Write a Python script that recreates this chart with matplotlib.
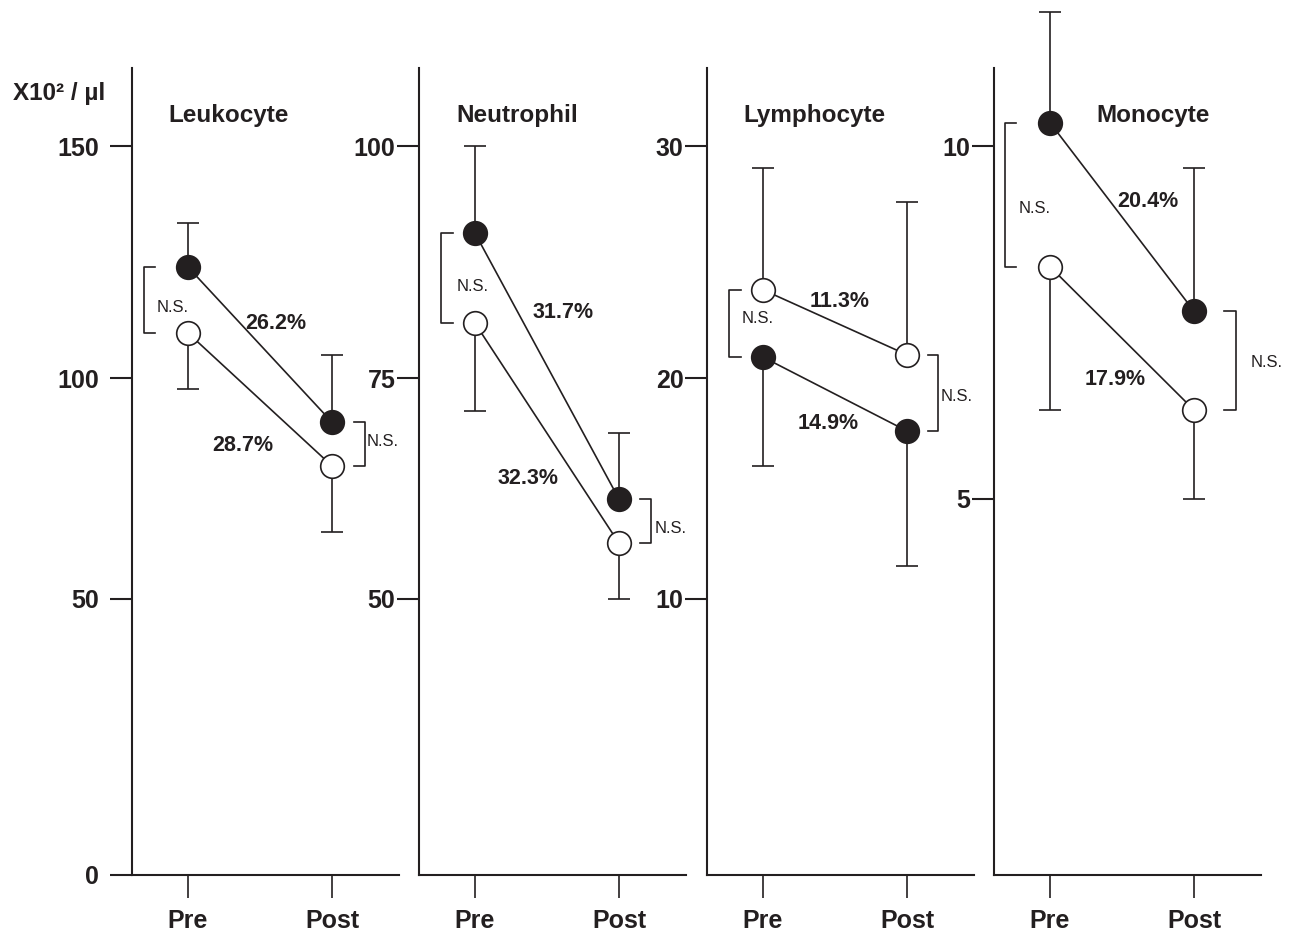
import numpy as np
import matplotlib.pyplot as plt

plt.rcParams['font.family'] = ['Liberation Sans', 'DejaVu Sans']

INK = '#231f20'

# -----------------------------
# data
# -----------------------------
panels = ["Leukocyte", "Neutrophil", "Lymphocyte", "Monocyte"]
times = ["Pre", "Post"]

# filled circles / open circles (Pre, Post)
closed_mean = [[123.9, 90.0], [90.6, 61.3], [20.9, 17.6], [10.33, 7.66]]
open_mean = [[109.7, 80.1], [80.9, 56.3], [23.8, 21.0], [8.29, 6.26]]
closed_err = [[9.5, 15.0], [9.4, 7.5], [4.9, 6.1], [1.57, 2.03]]
open_err = [[12.2, 14.9], [9.6, 6.3], [5.25, 6.6], [2.03, 1.26]]

closed_pct = ["26.2%", "31.7%", "14.9%", "20.4%"]
open_pct = ["28.7%", "32.3%", "11.3%", "17.9%"]

yticks = [[0, 50, 100, 150], [50, 75, 100], [10, 20, 30], [5, 10]]

# -----------------------------
# layout (pixel rows of the ticks in the original figure)
# -----------------------------
tick_rows = [[875, 599, 378, 146], [599, 378, 146], [599, 378, 146], [499, 146]]
AX_BOT, AX_TOP = 875, 68


def frac(row):
    return (AX_BOT - row) / (AX_BOT - AX_TOP)


def make_scale(vals, fracs):
    vals = np.asarray(vals, float)
    fracs = np.asarray(fracs, float)

    def extrap(v, xp, fp):
        v = np.asarray(v, float)
        out = np.interp(v, xp, fp)
        s0 = (fp[1] - fp[0]) / (xp[1] - xp[0])
        s1 = (fp[-1] - fp[-2]) / (xp[-1] - xp[-2])
        out = np.where(v < xp[0], fp[0] + (v - xp[0]) * s0, out)
        out = np.where(v > xp[-1], fp[-1] + (v - xp[-1]) * s1, out)
        return out

    return (lambda v: extrap(v, vals, fracs), lambda f: extrap(f, fracs, vals))


# bracket x offsets (vertical, tip) for Pre and Post
br_pre = [(-0.306, -0.229), (-0.236, -0.153), (-0.236, -0.153), (-0.313, -0.236)]
br_post = [(0.229, 0.153), (0.222, 0.146), (0.215, 0.146), (0.292, 0.208)]

# text positions in axes fraction: (x, baseline row)
title_x = [0.135, 0.139, 0.135, 0.382]
ns_pre = [(0.154, 312), (0.199, 291), (0.191, 323), (0.154, 213)]
ns_post = [(0.880, 446), (0.884, 533), (0.876, 401), (0.963, 367)]
closed_pct_pos = [(0.539, 329), (0.539, 318), (0.453, 429), (0.577, 207)]
open_pct_pos = [(0.416, 451), (0.408, 484), (0.498, 307), (0.453, 385)]

spines_px = [132, 419, 707, 994]
W, H = 1293, 932
ax_w = 267

fig = plt.figure(figsize=(W / 100, H / 100), dpi=100)

for i, name in enumerate(panels):
    ax = fig.add_axes([spines_px[i] / W, (H - AX_BOT) / H,
                       ax_w / W, (AX_BOT - AX_TOP) / H])
    fwd, inv = make_scale(yticks[i], [frac(r) for r in tick_rows[i]])
    ax.set_yscale('function', functions=(fwd, inv))
    ax.set_ylim(float(inv(0.0)), float(inv(1.0)))
    ax.set_xlim(-0.389, 1.465)

    x = np.arange(2)
    cm = np.array(closed_mean[i])
    om = np.array(open_mean[i])
    ce = np.array(closed_err[i])
    oe = np.array(open_err[i])
    zero = np.zeros(2)

    # the upper series gets upward bars, the lower one downward bars
    if cm[0] >= om[0]:
        c_yerr, o_yerr = [zero, ce], [oe, zero]
    else:
        c_yerr, o_yerr = [ce, zero], [zero, oe]

    for m, yerr in ((cm, c_yerr), (om, o_yerr)):
        eb = ax.errorbar(x, m, yerr=yerr, fmt='none', ecolor=INK,
                         elinewidth=1.2, capsize=8, capthick=1.2, zorder=2)
        for art in eb.lines[1] + eb.lines[2]:
            art.set_clip_on(False)

    ax.plot(x, cm, color=INK, lw=1.2, marker='o', ms=17, mfc=INK,
            mec=INK, mew=1.2, zorder=4, clip_on=False)
    ax.plot(x, om, color=INK, lw=1.2, marker='o', ms=17, mfc='white',
            mec=INK, mew=1.2, zorder=3, clip_on=False)

    # N.S. brackets
    v, t = br_pre[i]
    ax.plot([t, v, v, t], [cm[0], cm[0], om[0], om[0]], color=INK, lw=1.2,
            clip_on=False, zorder=1)
    v, t = br_post[i]
    ax.plot([1 + t, 1 + v, 1 + v, 1 + t], [cm[1], cm[1], om[1], om[1]],
            color=INK, lw=1.2, clip_on=False, zorder=1)

    tx, tr = ns_pre[i]
    ax.text(tx, frac(tr), "N.S.", transform=ax.transAxes, ha='center',
            va='baseline', fontsize=12, color=INK)
    tx, tr = ns_post[i]
    ax.text(tx, frac(tr), "N.S.", transform=ax.transAxes, ha='left',
            va='baseline', fontsize=12, color=INK, clip_on=False)

    tx, tr = closed_pct_pos[i]
    ax.text(tx, frac(tr), closed_pct[i], transform=ax.transAxes, ha='center',
            va='baseline', fontsize=15.5, fontweight='bold', color=INK)
    tx, tr = open_pct_pos[i]
    ax.text(tx, frac(tr), open_pct[i], transform=ax.transAxes, ha='center',
            va='baseline', fontsize=15.5, fontweight='bold', color=INK)

    ax.text(title_x[i], frac(122), name, transform=ax.transAxes, ha='left',
            va='baseline', fontsize=17.5, fontweight='bold', color=INK)

    # axes styling
    for s in ('top', 'right'):
        ax.spines[s].set_visible(False)
    for s in ('left', 'bottom'):
        ax.spines[s].set_linewidth(1.5)
        ax.spines[s].set_color(INK)
    ax.set_yticks(yticks[i])
    ax.yaxis.set_minor_locator(plt.NullLocator())
    ax.set_xticks(x, times)
    ax.tick_params(axis='y', length=16, width=1.5, color=INK,
                   pad=8 if i == 0 else 1, labelsize=18, labelcolor=INK)
    ax.tick_params(axis='x', length=16.5, width=1.2, color=INK, pad=8,
                   labelsize=18, labelcolor=INK)
    for lab in ax.get_xticklabels() + ax.get_yticklabels():
        lab.set_fontweight('bold')
    ax.patch.set_visible(False)

fig.text(13 / W, (H - 100) / H, "X10² / µl", ha='left', va='baseline',
         fontsize=17.5, fontweight='bold', color=INK)

fig.savefig("out.png", dpi=100)
